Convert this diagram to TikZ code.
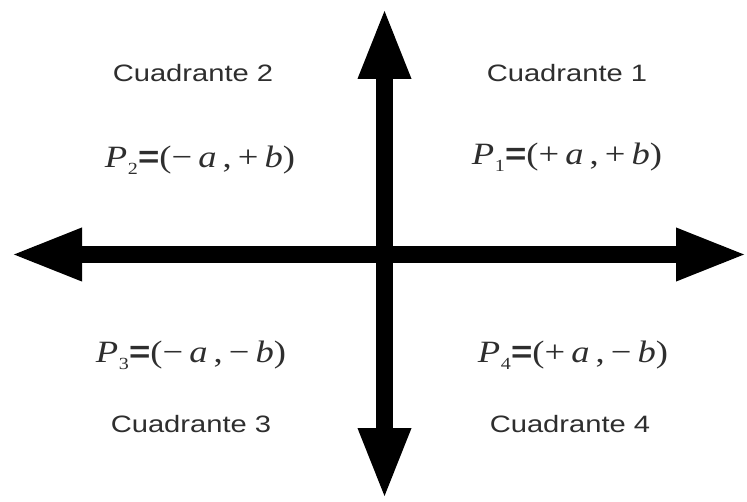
\documentclass[tikz,border=0pt]{standalone}
\usepackage{fontspec}
\setmainfont{Liberation Serif}
\setsansfont{Liberation Sans}
\usetikzlibrary{arrows.meta}
\definecolor{txt}{HTML}{2E2E2E}
\newcommand{\mypt}[3]{\textit{P}\kern0.02em\raisebox{-0.45ex}{\fontsize{17}{17}\selectfont #1}{\sffamily\bfseries =}(#2\,\textit{a}\,,\,#3\,\textit{b})}
\tikzset{
  axis/.style={line width=17.5pt, line cap=butt, -{Triangle[length=72pt 0 0,width=48pt 0 0]}},
  quad/.style={font=\sffamily\fontsize{23.7}{28}\selectfont, text=txt, anchor=base, inner sep=0pt, xscale=1.23},
  pt/.style={font=\fontsize{31}{35}\selectfont, text=txt, anchor=base, inner sep=0pt, xscale=1.18}
}
\begin{document}
\begin{tikzpicture}[x=1pt,y=-1pt]
\useasboundingbox (0,0) rectangle (747,502);
\coordinate (O) at (384.5,254.5);
\coordinate (L) at (10,254.5);
\coordinate (R) at (748,254.5);
\coordinate (T) at (384.5,7);
\coordinate (B) at (384.5,500);
\draw[axis] (O) -- (L);
\draw[axis] (O) -- (R);
\draw[axis] (O) -- (T);
\draw[axis] (O) -- (B);
\node[quad] (c1) at (567,82) {Cuadrante 1};
\node[quad] (c2) at (193,82) {Cuadrante 2};
\node[quad] (c3) at (191,432) {Cuadrante 3};
\node[quad] (c4) at (570,432) {Cuadrante 4};
\node[pt] (p1) at (567,165) {\mypt{1}{+}{+}};
\node[pt] (p2) at (200,168) {\mypt{2}{−}{+}};
\node[pt] (p3) at (191,363) {\mypt{3}{−}{−}};
\node[pt] (p4) at (573,363) {\mypt{4}{+}{−}};
\end{tikzpicture}
\end{document}
